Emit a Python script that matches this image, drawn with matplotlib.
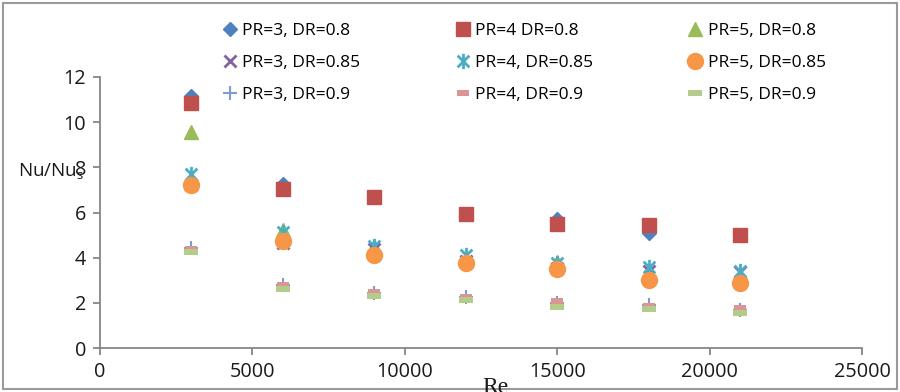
import matplotlib
matplotlib.use("Agg")
import matplotlib.pyplot as plt
from matplotlib.path import Path
from matplotlib.patches import Rectangle

plt.rcParams['font.family'] = ['Open Sans', 'DejaVu Sans']

# Reynolds numbers
re = [3000, 6000, 9000, 12000, 15000, 18000, 21000]

# Nu/Nus for each pitch ratio (PR) and diameter ratio (DR)
pr3_dr080 = [11.17, 7.28, 6.70, 5.95, 5.70, 5.08, 5.00]
pr4_dr080 = [10.86, 7.06, 6.70, 5.95, 5.50, 5.44, 5.00]
pr5_dr080 = [9.55, 5.24, 4.50, 3.95, 3.80, 3.30, 3.25]
pr3_dr085 = [7.20, 4.65, 4.40, 3.85, 3.55, 3.40, 3.35]
pr4_dr085 = [7.72, 5.12, 4.53, 4.10, 3.75, 3.60, 3.39]
pr5_dr085 = [7.20, 4.75, 4.12, 3.78, 3.50, 3.02, 2.88]
pr3_dr090 = [4.44, 2.80, 2.43, 2.28, 2.00, 1.92, 1.70]
pr4_dr090 = [4.38, 2.77, 2.48, 2.26, 2.06, 1.87, 1.77]
pr5_dr090 = [4.23, 2.63, 2.32, 2.11, 1.82, 1.73, 1.55]

labels = ["PR=3, DR=0.8", "PR=4 DR=0.8", "PR=5, DR=0.8",
          "PR=3, DR=0.85", "PR=4, DR=0.85", "PR=5, DR=0.85",
          "PR=3, DR=0.9", "PR=4, DR=0.9", "PR=5, DR=0.9"]

#Excel style "star": an x with a vertical bar through it
star = Path([(-1, -1), (1, 1), (-1, 1), (1, -1), (0, -1.3), (0, 1.3)],
            [Path.MOVETO, Path.LINETO, Path.MOVETO, Path.LINETO, Path.MOVETO, Path.LINETO])
#Excel style "dash": a short flat bar
dash = [(-1, -0.45), (1, -0.45), (1, 0.45), (-1, 0.45), (-1, -0.45)]

styles = [
    dict(marker='D', ms=7.4, color='#4F81BD'),
    dict(marker='s', ms=10.5, color='#C0504D'),
    dict(marker='^', ms=10.5, color='#9BBB59'),
    dict(marker='x', ms=9, color='#8064A2', mew=2),
    dict(marker=star, ms=11, color='#4BACC6', mew=2, mfc='none'),
    dict(marker='o', ms=11.5, color='#F79646'),
    dict(marker='+', ms=10, color='#7F9BD0', mew=1.5),
    dict(marker=dash, ms=9, color='#D99694', mew=0),
    dict(marker=dash, ms=10, color='#B3CC8A', mew=0),
]

series = [pr3_dr080, pr4_dr080, pr5_dr080,
          pr3_dr085, pr4_dr085, pr5_dr085,
          pr3_dr090, pr4_dr090, pr5_dr090]

fig = plt.figure(figsize=(9, 3.92), dpi=100)
ax = fig.add_axes([100/900, 1-348/392, 762/900, 271/392])

handles = []
for vals, lab, st in zip(series, labels, styles):
    h, = ax.plot(re, vals, linestyle='none', label=lab, **st)
    handles.append(h)

ax.set_xlim(0, 25000)
ax.set_ylim(0, 12)
ax.set_xticks(range(0, 25001, 5000))
ax.set_yticks(range(0, 13, 2))

for s in ['top', 'right']:
    ax.spines[s].set_visible(False)
for s in ['left', 'bottom']:
    ax.spines[s].set_color('#868686')
    ax.spines[s].set_linewidth(1.3)
ax.tick_params(direction='out', length=5, width=1.3, color='#868686',
               labelsize=14.3, labelcolor='#1a1a1a', pad=5)

#legend is filled column by column, so reorder the handles
order = [0, 3, 6, 1, 4, 7, 2, 5, 8]
fig.legend([handles[i] for i in order], [labels[i] for i in order],
           loc='upper left', bbox_to_anchor=(223/900, 1-23/392), ncol=3,
           frameon=False, fontsize=12.5, handlelength=0.8, handletextpad=0.3,
           columnspacing=5.5, labelspacing=0.9, borderaxespad=0, borderpad=0)

fig.text(18/900, 1-172/392, r"Nu/Nu$_\mathregular{s}$", fontsize=13.5,
         va='center', ha='left', color='#1a1a1a')
fig.text(495/900, 1-377/392, "Re", fontsize=17, family='Liberation Serif',
         va='top', ha='center', color='#1a1a1a')

#chart area border
fig.patches.append(Rectangle((3/900, 3/392), 894/900, 386/392, transform=fig.transFigure,
                             fill=False, edgecolor='#9a9a9a', linewidth=1.5))

fig.savefig("out.png", dpi=100)
